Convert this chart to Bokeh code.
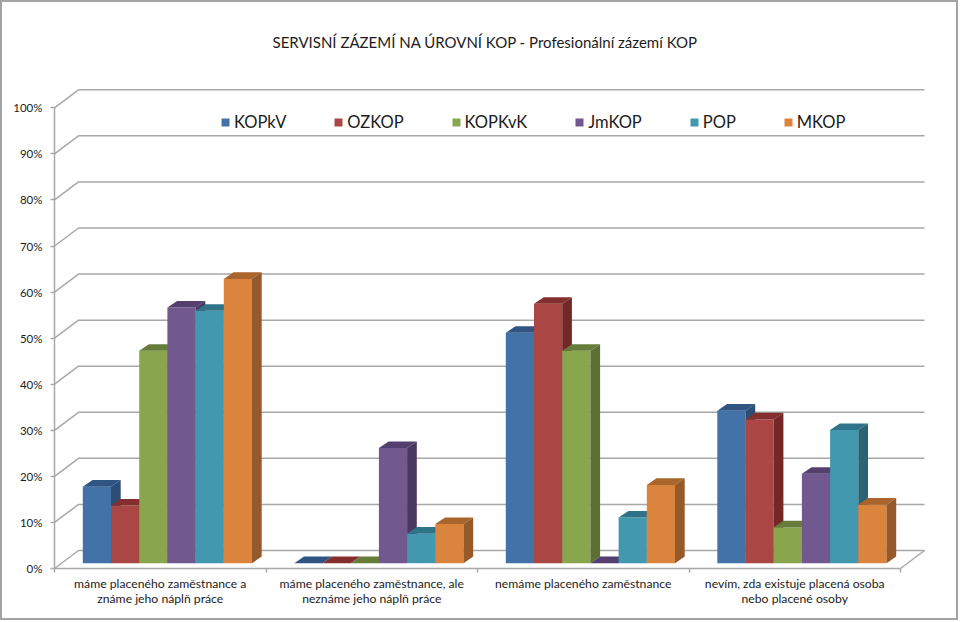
from bokeh.embed import file_html
from bokeh.resources import INLINE
from bokeh.plotting import figure
from bokeh.models import (Range1d, LinearAxis, FixedTicker, PrintfTickFormatter, Legend, LegendItem,
                          Title, ColumnDataSource)

# ---- data (percent) ----
categories = ["máme placeného zaměstnance a\nznáme jeho náplň práce",
              "máme placeného zaměstnance, ale\nneznáme jeho náplň práce",
              "nemáme placeného zaměstnance",
              "nevím, zda existuje placená osoba\nnebo placené osoby"]
KOPkV = [16.6, 0, 50.0, 33.1]
OZKOP = [12.5, 0, 56.3, 31.2]
KOPKvK = [46.1, 0, 46.1, 7.8]
JmKOP = [55.5, 25.0, 0, 19.4]
POP = [54.8, 6.4, 9.9, 28.9]
MKOP = [61.7, 8.5, 17.0, 12.7]
series_names = ["KOPkV", "OZKOP", "KOPKvK", "JmKOP", "POP", "MKOP"]
series_values = [KOPkV, OZKOP, KOPKvK, JmKOP, POP, MKOP]
front_colors = ["#4372A8", "#AA4643", "#89A54E", "#71588F", "#4198AF", "#DB843D"]
top_colors = ["#305582", "#842F2D", "#667C3A", "#553F6E", "#2F7388", "#A9652C"]
side_colors = ["#2C4D75", "#732827", "#5C7034", "#4B3862", "#296374", "#96592A"]
title_text = "SERVISNÍ ZÁZEMÍ NA ÚROVNÍ KOP - Profesionální zázemí KOP"
FONT = "Lato"
GREY = "#A8A8A8"
TEXT = "#1c1c1c"

# ---- scale geometry (pixels inside the canvas, which sits 2px in from the page corner) ----
BORDER = 2
W, H = 954, 616
PLOT_W, PLOT_H = W + 2 * BORDER, H + 2 * BORDER   # the size Bokeh lays the frame out to, border included
FRAME_TOP = 54
X0, GROUP_W = 54.0 - BORDER, 211.5      # x pixel of category 0, pixels per category
Y0, PCT = 568.0 - BORDER, 4.607         # y pixel of 0 %, pixels per percent
WALL_DX, WALL_DY = 24 / GROUP_W, 18 / PCT   # depth of the floor in data units
BAR_DX, BAR_DY = 9.7 / GROUP_W, 6.6 / PCT   # depth of a bar in data units
BAR_W = 28.2 / GROUP_W
BAR_X = 28.3 / GROUP_W
BAR_BASE = 5.3 / PCT

p = figure(width=W, height=H, output_backend="svg", toolbar_location=None,
           x_axis_location=None, y_axis_location=None,
           x_range=Range1d(-X0 / GROUP_W, (PLOT_W - X0) / GROUP_W),
           y_range=Range1d((Y0 - PLOT_H) / PCT, (Y0 - FRAME_TOP) / PCT),
           min_border_left=0, min_border_right=0, min_border_top=FRAME_TOP, min_border_bottom=0,
           outline_line_color=None, background_fill_color="white", border_fill_color="white",
           styles={"position": "absolute", "left": "0px", "top": "0px",
                   "box-sizing": "content-box", "border": f"{BORDER}px solid #A3A3A3"})
p.grid.visible = False

p.add_layout(Title(text=title_text, text_font=FONT, text_font_size="15px", text_font_style="normal",
                   text_color=TEXT, align="left", offset=270, standoff=11), "above")

# ---- walls ----
levels = list(range(0, 101, 10))
p.multi_line([[0, WALL_DX, 4 + WALL_DX] for _ in levels],
             [[v, v + WALL_DY, v + WALL_DY] for v in levels], line_color=GREY, line_width=1.5)
p.line([4, 4 + WALL_DX], [0, WALL_DY], line_color=GREY, line_width=1.5)

# ---- bars ----
items = []
for j, (name, vals) in enumerate(zip(series_names, series_values)):
    lefts = [i + BAR_X + j * BAR_W for i in range(len(vals))]
    rights = [l + BAR_W for l in lefts]
    tops = [BAR_BASE + v for v in vals]
    src = ColumnDataSource(dict(left=lefts, right=rights, top=tops, bottom=[BAR_BASE] * len(vals)))
    front = p.quad(left="left", right="right", top="top", bottom="bottom", source=src,
                   fill_color=front_colors[j], line_color=None)
    p.patches([[l, r, r + BAR_DX, l + BAR_DX] for l, r in zip(lefts, rights)],
              [[t, t, t + BAR_DY, t + BAR_DY] for t in tops],
              fill_color=top_colors[j], line_color=None)
    p.patches([[r, r + BAR_DX, r + BAR_DX, r] for r in rights],
              [[BAR_BASE, BAR_BASE + BAR_DY, t + BAR_DY, t] for t in tops],
              fill_color=side_colors[j], line_color=None)
    items.append(LegendItem(label=name, renderers=[front]))

# ---- axes ----
y_axis = LinearAxis(fixed_location=0, bounds=(0, 100), ticker=FixedTicker(ticks=levels),
                    formatter=PrintfTickFormatter(format="%d%%"),
                    axis_line_color=GREY, axis_line_width=1.5, major_tick_line_color=GREY,
                    major_tick_line_width=1.5, major_tick_in=0, major_tick_out=4, minor_tick_line_color=None,
                    major_label_text_font=FONT, major_label_text_font_size="11.5px",
                    major_label_text_color=TEXT, major_label_standoff=8)
p.add_layout(y_axis, "left")

x_ticks = LinearAxis(fixed_location=0, bounds=(0, 4), ticker=FixedTicker(ticks=[0, 1, 2, 3, 4]),
                     major_label_overrides={i: "" for i in range(5)},
                     axis_line_color=GREY, axis_line_width=1.5, major_tick_line_color=GREY,
                     major_tick_line_width=1.5, major_tick_in=0, major_tick_out=4, minor_tick_line_color=None)
p.add_layout(x_ticks, "below")

centres = [i + 0.5 for i in range(len(categories))]
x_labels = LinearAxis(fixed_location=0, ticker=FixedTicker(ticks=centres),
                      major_label_overrides=dict(zip(centres, categories)),
                      axis_line_color=None, major_tick_line_color=None, minor_tick_line_color=None,
                      major_label_text_font=FONT, major_label_text_font_size="12.2px",
                      major_label_text_line_height=1.05,
                      major_label_text_color=TEXT, major_label_standoff=1)
p.add_layout(x_labels, "below")

# ---- legend ----
legend = Legend(items=items, orientation="horizontal", location=(218, 490),
                spacing=47, glyph_width=10, glyph_height=10, label_standoff=4, padding=0, margin=0,
                border_line_color=None, background_fill_alpha=0,
                label_text_font=FONT, label_text_font_size="16.5px", label_text_color=TEXT)
p.add_layout(legend)

open("out.html", "w").write(file_html(p, INLINE))
